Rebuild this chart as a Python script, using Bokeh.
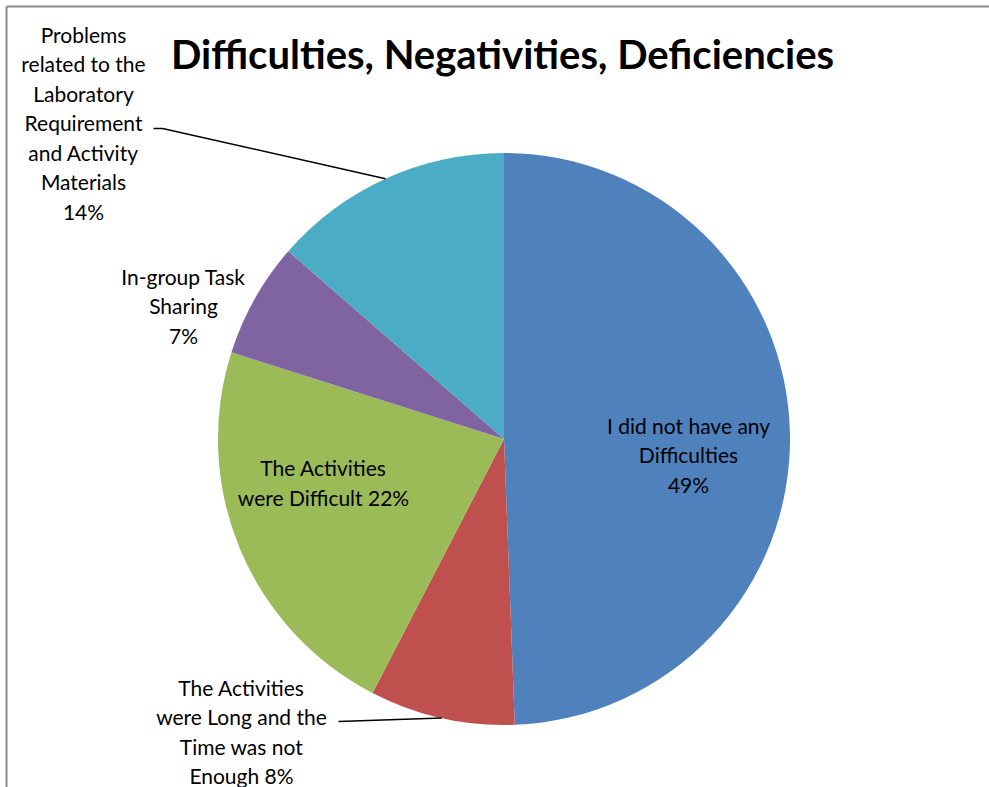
import math
from bokeh.plotting import figure
from bokeh.models import Range1d, ColumnDataSource
from bokeh.core.properties import value
from bokeh.embed import file_html
from bokeh.resources import INLINE

# ---- data ----
categories = [
    "I did not have any\nDifficulties",
    "The Activities\nwere Long and the\nTime was not\nEnough",
    "The Activities\nwere Difficult",
    "In-group Task\nSharing",
    "Problems\nrelated to the\nLaboratory\nRequirement\nand Activity\nMaterials",
]
shares = [49.4, 8.2, 22.3, 6.5, 13.6]
colors = ["#4F81BD", "#C0504D", "#9BBB59", "#8064A2", "#4BACC6"]
title_text = "Difficulties, Negativities, Deficiencies"

# ---- layout (screen px, y down) ----
W, H = 989, 787
CX, CY, R = 503.5, 438.5, 286
joiners = ["\n", " ", " ", "\n", "\n"]
label_pos = [(688, 454), (241, 731), (323, 482), (183, 305), (83, 122)]
leader_start = {1: [(338, 721)], 4: [(153, 128), (162, 128)]}
FONT = "Lato"

def sy(y):
    return H - y

p = figure(width=W, height=H, output_backend="svg", toolbar_location=None,
           x_range=Range1d(0, W), y_range=Range1d(0, H), min_border=0)
p.axis.visible = False
p.grid.visible = False
p.outline_line_color = None
p.background_fill_color = "white"
p.border_fill_color = "white"

# frame lines
p.line([6, W], [sy(6), sy(6)], line_color="#8A8A8A", line_width=2)
p.line([6, 6], [sy(6), 0], line_color="#8A8A8A", line_width=2)

total = sum(shares)
starts, ends, mids = [], [], []
cum = 0.0
for v in shares:
    f0 = cum / total
    cum += v
    f1 = cum / total
    starts.append(math.pi / 2 - 2 * math.pi * f0)
    ends.append(math.pi / 2 - 2 * math.pi * f1)
    mids.append(math.pi / 2 - math.pi * (f0 + f1))

src = ColumnDataSource(dict(x=[CX] * len(shares), y=[sy(CY)] * len(shares),
                            start=starts, end=ends, color=colors))
p.wedge(x="x", y="y", radius=R, start_angle="start", end_angle="end",
        direction="clock", fill_color="color", line_color=None, source=src)

# leader lines
for i, pts in leader_start.items():
    ex = CX + R * math.cos(mids[i])
    ey = sy(CY) + R * math.sin(mids[i])
    xs = [q[0] for q in pts] + [ex]
    ys = [sy(q[1]) for q in pts] + [ey]
    p.line(xs, ys, line_color="black", line_width=1.5)

# labels
labels = []
for c, v, j in zip(categories, shares, joiners):
    pct = int(v / total * 100 + 0.5)
    labels.append(f"{c}{j}{pct}%")
lsrc = ColumnDataSource(dict(x=[q[0] for q in label_pos], y=[sy(q[1]) for q in label_pos], t=labels))
p.text(x="x", y="y", text="t", source=lsrc, text_align="center", text_baseline="middle",
       text_font=value(FONT), text_font_size="21px", text_line_height=1.18, text_color="black")

p.text(x=[502], y=[sy(53)], text=[title_text], text_align="center", text_baseline="middle",
       text_font=value(FONT), text_font_style="bold", text_font_size="40px", text_color="black")

open("out.html", "w").write(file_html(p, INLINE))
